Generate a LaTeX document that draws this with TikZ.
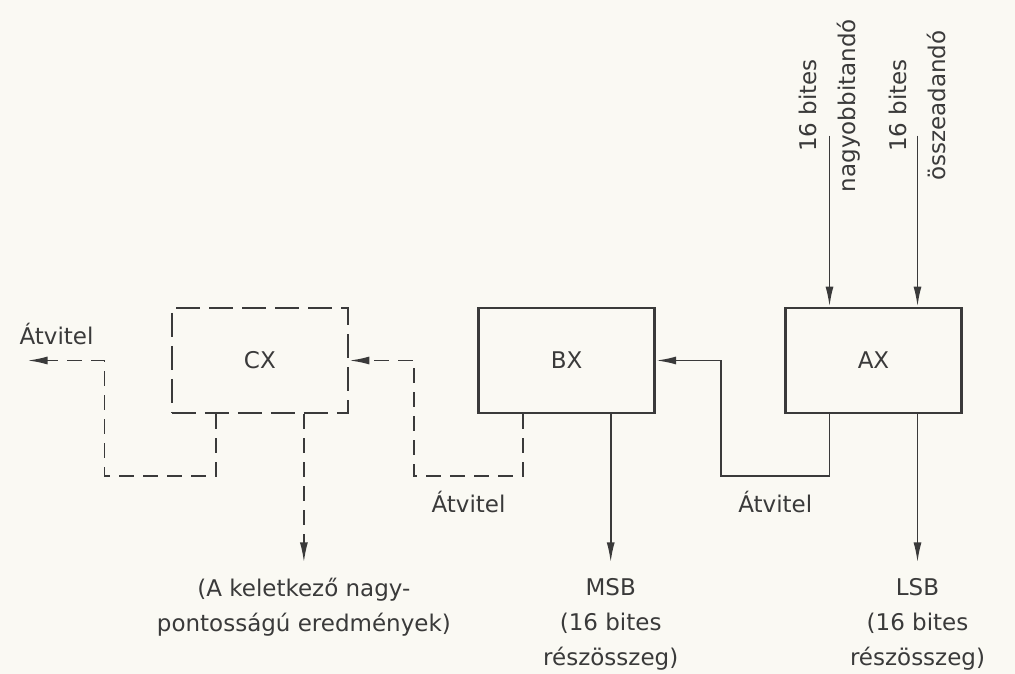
\documentclass[tikz,border=0pt]{standalone}
\usepackage{fontspec}
\setmainfont{DejaVu Sans}
\usepackage{tikz}
\usetikzlibrary{arrows.meta,positioning}
\definecolor{ink}{RGB}{58,58,58}
\definecolor{paper}{RGB}{250,249,243}
\tikzset{
  regbox/.style={
    rectangle,
    draw=ink,
    line width=2.8pt,
    minimum width=176pt,
    minimum height=105pt,
    text=ink
  },
  regdash/.style={
    regbox,
    dash pattern=on 24pt off 9pt
  },
  flowline/.style={-{Latex[length=20pt,width=8pt]},draw=ink,line width=1.8pt},
  carryline/.style={flowline,dash pattern=on 15pt off 9pt},
  lbl/.style={text=ink,inner sep=3pt},
  inlabel/.style={text=ink,rotate=90,align=center,font=\fontsize{23}{39}\selectfont},
  outtext/.style={text=ink,align=center,inner sep=3pt,outer sep=13pt}
}
\begin{document}
\begin{tikzpicture}[x=1pt,y=1pt,node distance=128pt,font=\fontsize{23}{35}\selectfont]
  \path[use as bounding box,fill=paper] (0,0) rectangle (1015,674);
  \node[regbox] (AX) at (873.5,313.5) {AX};
  \node[regbox, left=of AX] (BX) {BX};
  \node[regdash, left=of BX] (CX) {CX};
  \coordinate (inmul) at ([xshift=-44pt,yshift=171pt]AX.north);
  \coordinate (inadd) at ([xshift=44pt,yshift=171pt]AX.north);
  \coordinate (cxout) at ([xshift=-143pt]CX.west);
  \node[inlabel] (mullbl) at ([yshift=30pt]inmul) {16 bites\\nagyobbitandó};
  \node[inlabel] (addlbl) at ([yshift=30pt]inadd) {16 bites\\összeadandó};
  \node[outtext, below=148pt of AX.south, xshift=44pt] (lsb) {LSB\\(16 bites\\részösszeg)};
  \node[outtext, below=148pt of BX.south, xshift=44pt] (msb) {MSB\\(16 bites\\részösszeg)};
  \node[outtext, below=148pt of CX.south, xshift=44pt] (res) {(A keletkező nagy-\\pontosságú eredmények)};
  \node[lbl, above=12pt of cxout, xshift=29pt] (cxcarry) {Átvitel};
  \draw[flowline] (inmul) -- (inmul |- AX.north);
  \draw[flowline] (inadd) -- (inadd |- AX.north);
  \draw[flowline] ([xshift=44pt]AX.south) -- (lsb.north);
  \draw[flowline] ([xshift=44pt]BX.south) -- (msb.north);
  \draw[carryline] ([xshift=44pt]CX.south) -- (res.north);
  \draw[flowline] ([xshift=-44pt]AX.south) -- ++(0,-62pt) -| node[lbl, pos=0.25, below=11pt]{Átvitel} ([xshift=65pt]BX.east) -- (BX.east);
  \draw[carryline] ([xshift=-44pt]BX.south) -- ++(0,-62pt) -| node[lbl, pos=0.25, below=11pt]{Átvitel} ([xshift=65pt]CX.east) -- (CX.east);
  \draw[carryline] ([xshift=-44pt]CX.south) -- ++(0,-62pt) -| ([xshift=-66pt]CX.west) -- (cxout);
\end{tikzpicture}
\end{document}
